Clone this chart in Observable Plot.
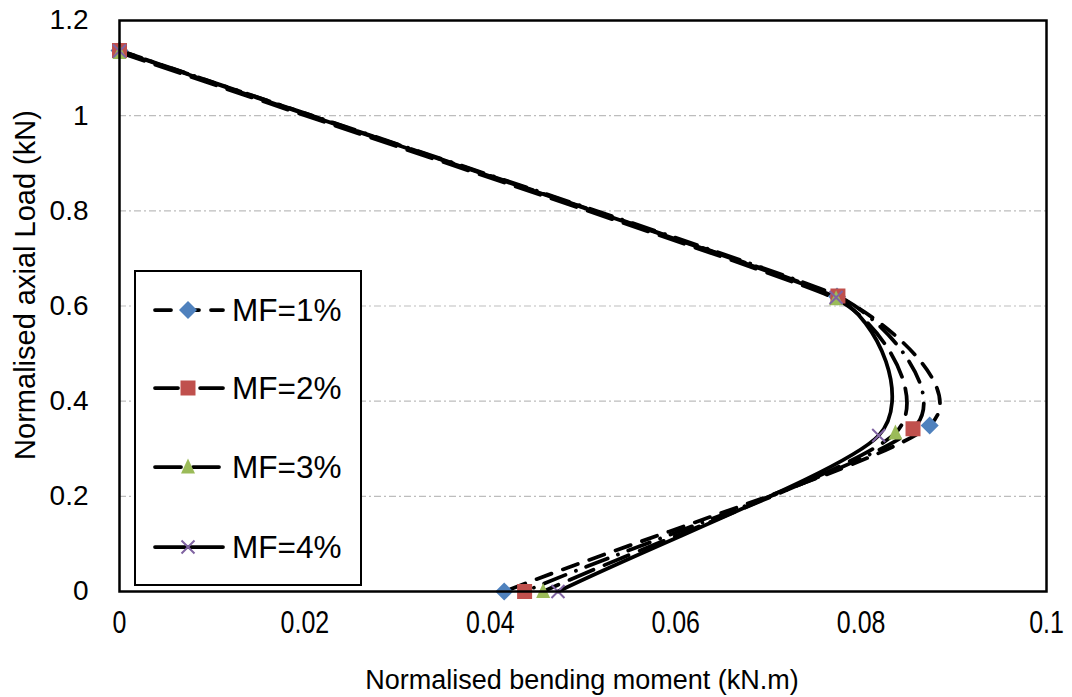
<!DOCTYPE html>
<html><head><meta charset="utf-8">
<script src="https://cdn.jsdelivr.net/npm/d3@7"></script>
<script src="https://cdn.jsdelivr.net/npm/@observablehq/plot@0.6"></script>
<style>
body{margin:0;background:#fff;}
#chart{position:relative;width:1072px;height:697px;font-family:"Liberation Sans",Arial,sans-serif;}
#legend{position:absolute;left:134px;top:270px;width:224px;height:312px;border:2px solid #000;background:#fff;}
#legend svg{position:absolute;left:0;top:0;}
</style></head><body><div id="chart"></div>
<script>
// ---- data ----
const seriesNames = ["MF=1%", "MF=2%", "MF=3%", "MF=4%"];
const momentMF1 = [0, 0.0774, 0.0874, 0.0415];
const axialMF1  = [1.137, 0.620, 0.349, 0];
const momentMF2 = [0, 0.0775, 0.0856, 0.0437];
const axialMF2  = [1.137, 0.621, 0.342, 0];
const momentMF3 = [0, 0.0773, 0.0837, 0.0457];
const axialMF3  = [1.133, 0.615, 0.333, 0];
const momentMF4 = [0, 0.0773, 0.0819, 0.0473];
const axialMF4  = [1.136, 0.618, 0.328, 0];
const xTicks = [0, 0.02, 0.04, 0.06, 0.08, 0.1];
const xTickLabels = ["0", "0.02", "0.04", "0.06", "0.08", "0.1"];
const yTicks = [0, 0.2, 0.4, 0.6, 0.8, 1, 1.2];
const yTickLabels = ["0", "0.2", "0.4", "0.6", "0.8", "1", "1.2"];
const gridValues = [0.2, 0.4, 0.6, 0.8, 1];
const xTitle = "Normalised bending moment (kN.m)";
const yTitle = "Normalised axial Load (kN)";

// ---- styles ----
const moments = [momentMF1, momentMF2, momentMF3, momentMF4];
const axials = [axialMF1, axialMF2, axialMF3, axialMF4];
const dashes = ["16,12", "23,11,0.1,11", "26,12", null];
const colors = ["#4F81BD", "#C0504D", "#9BBB59", "#8064A2"];
const symDiamond = {draw(c){const h=9;c.moveTo(0,-h);c.lineTo(h,0);c.lineTo(0,h);c.lineTo(-h,0);c.closePath();}};
const symSquare = {draw(c){const s=7.5;c.rect(-s,-s,2*s,2*s);}};
const symTriangle = {draw(c){c.moveTo(0,-8.5);c.lineTo(7,6.5);c.lineTo(-7,6.5);c.closePath();}};
const symTimes = {draw(c){const r=6.5;c.moveTo(-r,-r);c.lineTo(r,r);c.moveTo(r,-r);c.lineTo(-r,r);}};
const symbols = [symDiamond, symSquare, symTriangle, symTimes];

// Spreadsheet-style smoothed line: cubic Bézier through the points,
// tangent along (next - previous), handle length = shorter adjacent segment / 3.
function smoothCurve(context) {
  let pts = [];
  return {
    areaStart() {}, areaEnd() {},
    lineStart() { pts = []; },
    point(x, y) { pts.push([+x, +y]); },
    lineEnd() {
      const n = pts.length;
      if (!n) return;
      context.moveTo(pts[0][0], pts[0][1]);
      const dist = (a, b) => Math.hypot(b[0] - a[0], b[1] - a[1]);
      const tan = i => {
        const a = pts[Math.max(0, i - 1)], b = pts[Math.min(n - 1, i + 1)];
        const L = dist(a, b) || 1;
        return [(b[0] - a[0]) / L, (b[1] - a[1]) / L];
      };
      const handle = i => {
        const ls = [];
        if (i > 0) ls.push(dist(pts[i - 1], pts[i]));
        if (i < n - 1) ls.push(dist(pts[i], pts[i + 1]));
        return Math.min(...ls) / 3;
      };
      for (let i = 0; i < n - 1; i++) {
        const a = pts[i], b = pts[i + 1];
        const ta = tan(i), tb = tan(i + 1), ha = handle(i), hb = handle(i + 1);
        context.bezierCurveTo(a[0] + ta[0] * ha, a[1] + ta[1] * ha,
                              b[0] - tb[0] * hb, b[1] - tb[1] * hb, b[0], b[1]);
      }
    }
  };
}

const data = seriesNames.map((s, k) => moments[k].map((m, i) => ({series: s, x: m, y: axials[k][i]})));
const xLab = new Map(xTicks.map((t, i) => [t, xTickLabels[i]]));
const yLab = new Map(yTicks.map((t, i) => [t, yTickLabels[i]]));

const lineMarks = data.map((d, k) => Plot.line(d, {
  x: "x", y: "y", curve: smoothCurve, stroke: "#000", strokeWidth: 3.75,
  strokeDasharray: dashes[k] || undefined, strokeLinecap: "round", strokeLinejoin: "round"
}));
const dotMarks = data.map((d, k) => k === 3
  ? Plot.dot(d, {x: "x", y: "y", symbol: symbols[k], r: 5, fill: "none", stroke: colors[k], strokeWidth: 2})
  : Plot.dot(d, {x: "x", y: "y", symbol: symbols[k], r: 5, fill: colors[k], stroke: "none"}));

const plot = Plot.plot({
  width: 1072, height: 697,
  marginLeft: 119, marginRight: 26, marginTop: 20, marginBottom: 106,
  style: {fontFamily: '"Liberation Sans", Arial, sans-serif', fontSize: "28px", background: "#fff", color: "#000"},
  x: {domain: [0, 0.1]},
  y: {domain: [0, 1.2]},
  marks: [
    Plot.ruleY(gridValues, {stroke: "#bdbdbd", strokeWidth: 1.2, strokeDasharray: "7,3,2,3"}),
    Plot.axisX(xTicks, {tickSize: 0, tickPadding: 19, tickFormat: d => xLab.get(d), label: null, fontSize: 32}),
    Plot.axisY(yTicks, {tickSize: 0, tickPadding: 31, tickFormat: d => yLab.get(d), label: null, fontSize: 28}),
    ...lineMarks,
    ...dotMarks,
    Plot.frame({stroke: "#000", strokeWidth: 2.5})
  ]
});
const chart = document.getElementById("chart");
chart.appendChild(plot);

const svg = d3.select(plot);
// condensed x tick labels
svg.selectAll('[aria-label="x-axis tick label"] text').each(function(){
  this.setAttribute("font-size", 32);
  const w = this.getComputedTextLength();
  this.setAttribute("textLength", w * 0.78);
  this.setAttribute("lengthAdjust", "spacingAndGlyphs");
});
svg.append("text").attr("x", 582).attr("y", 689).attr("text-anchor", "middle")
  .attr("font-size", 27).attr("fill", "#000").text(xTitle);
svg.append("text").attr("transform", "translate(35,285) rotate(-90)").attr("text-anchor", "middle")
  .attr("font-size", 29).attr("fill", "#000").text(yTitle);

// legend
const leg = d3.select(chart).append("div").attr("id", "legend");
const lsvg = leg.append("svg").attr("width", 224).attr("height", 312);
const rowY = [38, 116, 195, 275];
seriesNames.forEach((s, k) => {
  const g = lsvg.append("g").attr("transform", `translate(0,${rowY[k]})`);
  g.append("line").attr("x1", 19).attr("x2", 87).attr("y1", 0).attr("y2", 0)
    .attr("stroke", "#000").attr("stroke-width", 3.75).attr("stroke-linecap", "round")
    .attr("stroke-dasharray", dashes[k]);
  const p = g.append("path").attr("transform", "translate(52,0)").attr("d", d3.symbol().type(symbols[k])());
  if (k === 3) p.attr("fill", "none").attr("stroke", colors[k]).attr("stroke-width", 2);
  else p.attr("fill", colors[k]);
  g.append("text").attr("x", 96).attr("y", 11).attr("font-size", 31.5).attr("fill", "#000").text(s);
});
</script></body></html>
